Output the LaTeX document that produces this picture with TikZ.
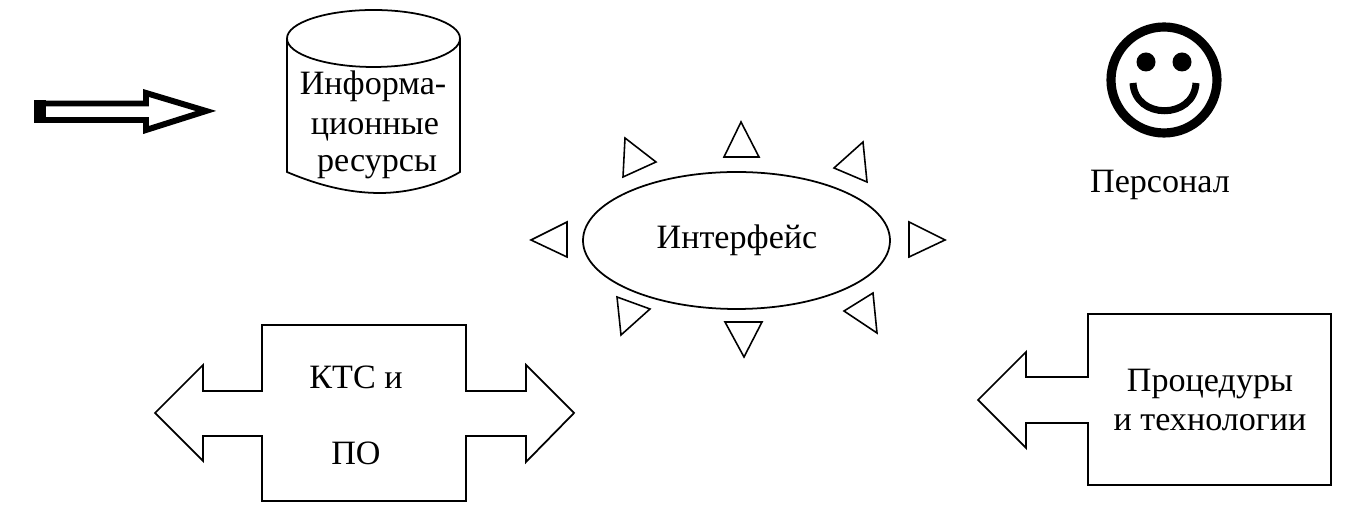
\documentclass[tikz,border=0pt]{standalone}
\usepackage{fontspec}
\setmainfont{Liberation Serif}
\tikzset{
  outline/.style={draw=black,line width=0.5pt,line join=miter},
  label/.style={anchor=base,inner sep=0pt,font=\fontsize{9.7}{11}\selectfont},
  ray/.style={draw=black,line width=0.45pt}
}
\begin{document}
\begin{tikzpicture}[x=0.01cm,y=-0.01cm]
            \useasboundingbox (0,0) rectangle (1366,516);
            % double outlined arrow
            \draw[line width=1.7pt,miter limit=10] (37,103.5) -- (146,103.5) -- (146,93) -- (206,111) -- (146,130) -- (146,120) -- (37,120) -- cycle;
            \fill (34,100) rectangle (46,123);
            % cylinder
            \draw[outline] (373.5,38.5) ellipse (86.5 and 28.5);
            \draw[outline] (287,38.5) -- (287,172) .. controls (320,186) and (350,193) .. (380,193) .. controls (410,193) and (440,184) .. (460,172) -- (460,38.5);
            \node[label] (info1) at (373,95) {Информа-};
            \node[label] (info2) at (375,135) {ционные};
            \node[label] (info3) at (377,172) {ресурсы};
            % ellipse with rays
            \draw[outline] (736.5,240.5) ellipse (153.5 and 68.5);
            \node[label] (iface) at (737,249) {Интерфейс};
            \draw[ray] (741,122) -- (724,157) -- (759,157) -- cycle;
            \draw[ray] (625,138) -- (656,162) -- (623,177) -- cycle;
            \draw[ray] (863,142) -- (834,168) -- (867,182) -- cycle;
            \draw[ray] (909,222) -- (945,240) -- (909,257) -- cycle;
            \draw[ray] (567,222) -- (531,240) -- (567,257) -- cycle;
            \draw[ray] (617,297) -- (650,309) -- (621,335) -- cycle;
            \draw[ray] (725,322) -- (762,322) -- (744,357) -- cycle;
            \draw[ray] (873,293) -- (844,311) -- (877,333) -- cycle;
            % smiley
            \draw[line width=2.6pt] (1164,80) circle (53);
            \fill (1146,62) circle (9.5);
            \fill (1182,62) circle (9.5);
            \draw[line width=2pt] (1133,83) .. controls (1135,120) and (1194,120) .. (1196,83);
            \node[label] (staff) at (1160,193) {Персонал};
            % double arrow box
            \draw[outline] (262,325) -- (466,325) -- (466,391) -- (526,391) -- (526,365) -- (574,413) -- (526,462) -- (526,436) -- (466,436) -- (466,501) -- (262,501) -- (262,436) -- (203,436) -- (203,461) -- (155,413) -- (203,365) -- (203,391) -- (262,391) -- cycle;
            \node[label] (kts) at (356,389) {КТС и};
            \node[label] (po) at (356,465) {ПО};
            % single arrow box
            \draw[outline] (1088,314) -- (1331,314) -- (1331,485) -- (1088,485) -- (1088,423) -- (1026,423) -- (1026,448) -- (978,400) -- (1026,352) -- (1026,377) -- (1088,377) -- cycle;
            \node[label] (proc1) at (1210,392) {Процедуры};
            \node[label] (proc2) at (1210,431) {и технологии};
\end{tikzpicture}
\end{document}
